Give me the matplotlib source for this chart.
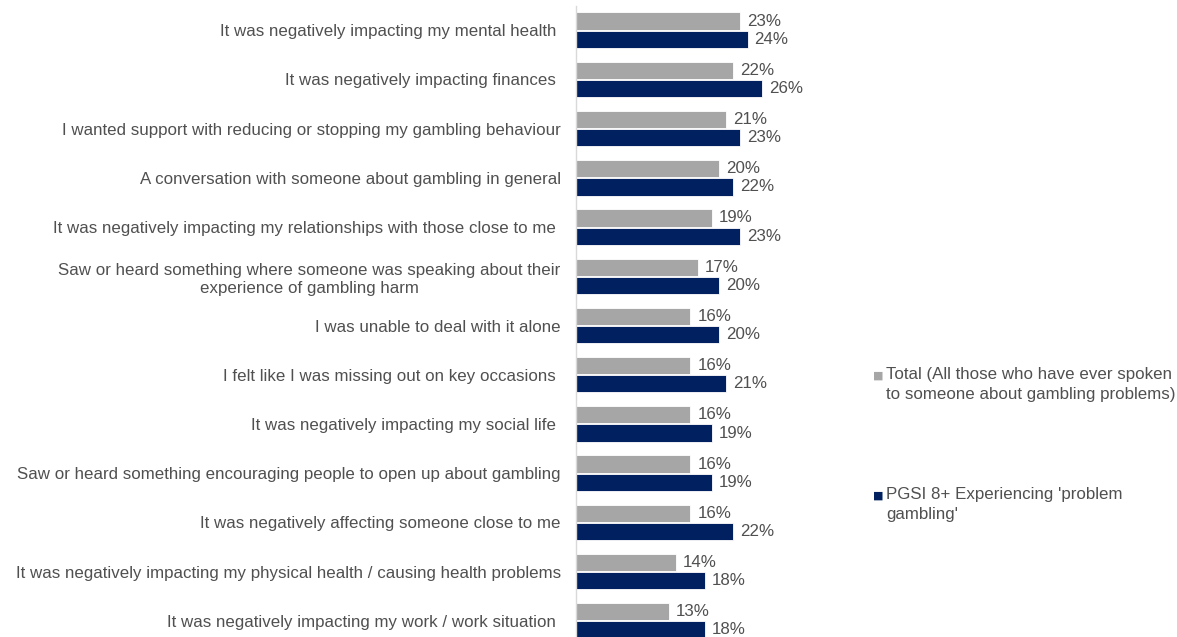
import numpy as np
import matplotlib.pyplot as plt

plt.rcParams['font.family'] = ['Liberation Sans', 'DejaVu Sans']

# ===== DATA =====
reasons = [
    "It was negatively impacting my mental health ",
    "It was negatively impacting finances ",
    "I wanted support with reducing or stopping my gambling behaviour",
    "A conversation with someone about gambling in general",
    "It was negatively impacting my relationships with those close to me ",
    "Saw or heard something where someone was speaking about their\nexperience of gambling harm",
    "I was unable to deal with it alone",
    "I felt like I was missing out on key occasions ",
    "It was negatively impacting my social life ",
    "Saw or heard something encouraging people to open up about gambling",
    "It was negatively affecting someone close to me",
    "It was negatively impacting my physical health / causing health problems",
    "It was negatively impacting my work / work situation ",
]
total = [23, 22, 21, 20, 19, 17, 16, 16, 16, 16, 16, 14, 13]
pgsi = [24, 26, 23, 22, 23, 20, 20, 21, 19, 19, 22, 18, 18]
series_names = ["Total (All those who have ever spoken\nto someone about gambling problems)",
                "PGSI 8+ Experiencing 'problem\ngambling'"]

GREY = '#A6A6A6'
NAVY = '#002060'
TXT = '#505050'
FS = 12.2

# ===== PLOT =====
fig = plt.figure(figsize=(11.77, 6.37), dpi=100)
W, H = 1177, 637
top_px, bot_px = 5.5, 645.5
ax = fig.add_axes([576 / W, (H - bot_px) / H, 286 / W, (bot_px - top_px) / H])

y = np.arange(len(reasons))
h = 0.35
b1 = ax.barh(y - h / 2 - 0.01, total, height=h, color=GREY, edgecolor='white', linewidth=0.6)
b2 = ax.barh(y + h / 2 + 0.01, pgsi, height=h, color=NAVY, edgecolor='white', linewidth=0.6)

for bars, vals in [(b1, total), (b2, pgsi)]:
    for rect, v in zip(bars, vals):
        ax.annotate(f"{v}%", (v, rect.get_y() + rect.get_height() / 2),
                    xytext=(5, 0), textcoords='offset points',
                    va='center', ha='left', fontsize=FS, color=TXT)

ax.set_xlim(0, 40)
ax.set_ylim(len(reasons) - 0.5, -0.5)
ax.set_yticks(y)
ax.set_yticklabels(reasons, fontsize=FS, color=TXT, multialignment='center', linespacing=1.3)
ax.tick_params(axis='y', length=0, pad=11)
ax.set_xticks([])
for s in ['top', 'right', 'bottom']:
    ax.spines[s].set_visible(False)
ax.spines['left'].set_color('#D9D9D9')
ax.spines['left'].set_linewidth(1)

# legend
for name, col, ypx in [(series_names[0], GREY, 376), (series_names[1], NAVY, 496)]:
    fig.text(873 / W, 1 - ypx / H, "■", color=col, fontsize=8, va='center', ha='left',
             family=['DejaVu Sans'])
    fig.text(886 / W, 1 - (ypx - 9) / H, name, color=TXT, fontsize=FS, va='top', ha='left',
             linespacing=1.38)

plt.savefig("out.png", dpi=100)
